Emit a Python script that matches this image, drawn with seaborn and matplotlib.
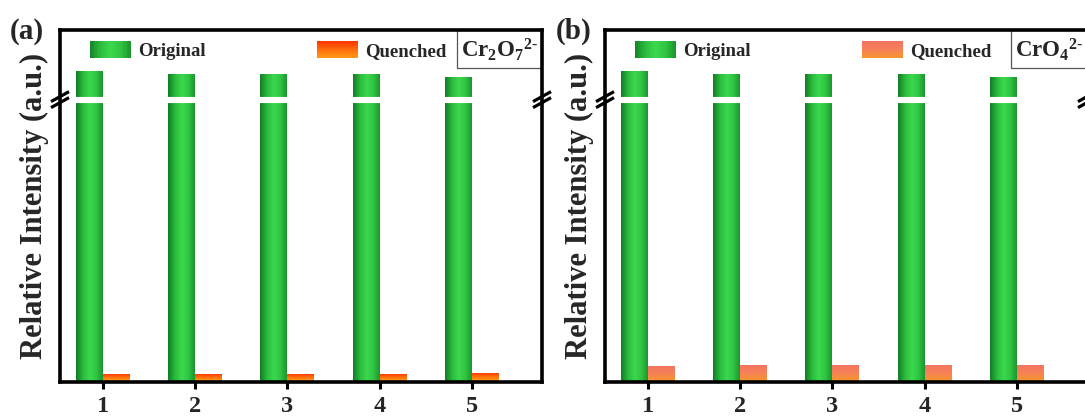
import numpy as np
import pandas as pd
import matplotlib
matplotlib.use("Agg")
import matplotlib.pyplot as plt
import seaborn as sns
from matplotlib.patches import Rectangle
from matplotlib.legend_handler import HandlerBase
from matplotlib.colors import LinearSegmentedColormap
from matplotlib.ticker import NullLocator

# ---- data (relative intensity, a.u.) ----
cycles = ["1", "2", "3", "4", "5"]
series = ["Original", "Quenched"]
original_cr2o7 = [100.0, 99.8, 99.8, 99.8, 99.6]
quenched_cr2o7 = [0.52, 0.52, 0.52, 0.52, 0.62]
original_cro4 = [100.0, 99.8, 99.8, 99.8, 99.6]
quenched_cro4 = [1.09, 1.14, 1.19, 1.19, 1.19]

# ---- broken y axis: [0, BREAK_LO] and [BREAK_HI, Y_TOP] ----
BREAK_LO, BREAK_HI, Y_TOP = 20.0, 98.0, 102.94


def fwd(y):
    y = np.asarray(y, dtype=float)
    return np.where(y <= BREAK_LO, y,
                    np.where(y >= BREAK_HI, y - (BREAK_HI - BREAK_LO), BREAK_LO))


def inv(z):
    z = np.asarray(z, dtype=float)
    return np.where(z <= BREAK_LO, z, z + (BREAK_HI - BREAK_LO))


sns.set_theme(style="white")
plt.rcParams["font.family"] = ["Liberation Serif", "DejaVu Serif"]
plt.rcParams["font.weight"] = "bold"
plt.rcParams["mathtext.fontset"] = "custom"
plt.rcParams["mathtext.rm"] = "Liberation Serif:bold"
plt.rcParams["mathtext.default"] = "rm"

GREEN = ["#158228", "#2bbd3d", "#3cd84e", "#2fc442", "#1b922e"]
ORANGE_A = ["#ff9a1a", "#ff6a0a", "#ff2f00"]      # bottom -> top
ORANGE_B = ["#f7952f", "#f6805a", "#f47360"]      # bottom -> top


class GradientHandler(HandlerBase):
    def __init__(self, colors, horizontal):
        super().__init__()
        self.cmap = LinearSegmentedColormap.from_list("lg", colors)
        self.horizontal = horizontal

    def create_artists(self, legend, orig_handle, xdescent, ydescent,
                       width, height, fontsize, trans):
        n = 30
        arts = []
        for i in range(n):
            c = self.cmap((i + 0.5) / n)
            if self.horizontal:
                r = Rectangle((-xdescent + width * i / n, -ydescent),
                              width / n * 1.08, height)
            else:
                r = Rectangle((-xdescent, -ydescent + height * i / n),
                              width, height / n * 1.08)
            r.set_facecolor(c)
            r.set_edgecolor("none")
            r.set_transform(trans)
            arts.append(r)
        return arts


def break_marks(ax, x_axes, y_axes):
    bb = ax.get_position()
    fw, fh = ax.figure.get_size_inches() * ax.figure.dpi
    px_x = 1.0 / (bb.width * fw)
    px_y = 1.0 / (bb.height * fh)
    for off in (-3.0, 3.0):
        ax.plot([x_axes - 9 * px_x, x_axes + 9 * px_x],
                [y_axes - 5 * px_y + off * px_y, y_axes + 5 * px_y + off * px_y],
                transform=ax.transAxes, color="black", lw=2.3,
                clip_on=False, zorder=6, solid_capstyle="butt")


def draw_panel(ax, original, quenched, q_colors, ion_text, box_x0):
    df = pd.DataFrame({
        "cycle": cycles * 2,
        "series": [series[0]] * len(cycles) + [series[1]] * len(cycles),
        "intensity": list(original) + list(quenched),
    })
    sns.barplot(data=df, x="cycle", y="intensity", hue="series",
                order=cycles, hue_order=series,
                palette=[GREEN[2], q_colors[1]], width=0.586,
                errorbar=None, saturation=1, linewidth=0,
                legend=False, ax=ax)
    ax.set_yscale("function", functions=(fwd, inv))

    green_cmap = LinearSegmentedColormap.from_list("g", GREEN)
    q_cmap = LinearSegmentedColormap.from_list("q", q_colors)
    ramp = np.linspace(0, 1, 64)
    for p in list(ax.patches):
        x0, w, h = p.get_x(), p.get_width(), p.get_height()
        xc = x0 + w / 2
        if xc < round(xc):
            img, cmap = ramp.reshape(1, -1), green_cmap
        else:
            img, cmap = ramp.reshape(-1, 1), q_cmap
        ax.imshow(img, cmap=cmap, extent=[x0, x0 + w, 0, h], origin="lower",
                  aspect="auto", interpolation="bilinear", zorder=1.2)

    ax.set_xlim(-0.466, 4.76)
    ax.set_ylim(0, Y_TOP)
    ax.set_yticks([])
    ax.yaxis.set_minor_locator(NullLocator())

    # white gap through the bars at the axis break
    ax.axhline(BREAK_LO, color="white", lw=4.4, zorder=2)

    for s in ax.spines.values():
        s.set_visible(True)
        s.set_linewidth(2.6)
        s.set_color("black")
        s.set_zorder(5)

    ax.tick_params(axis="x", direction="out", length=5, width=2.2,
                   color="black", bottom=True, top=False, pad=5.5,
                   labelsize=17.5)
    for t in ax.get_xticklabels():
        t.set_fontweight("bold")
    ax.set_xlabel("")
    ax.set_ylabel("Relative Intensity (a.u.)", fontsize=22,
                  fontweight="bold", labelpad=8)

    yb = fwd(BREAK_LO) / fwd(Y_TOP)
    break_marks(ax, 0.0, float(yb))
    break_marks(ax, 1.0, float(yb))

    h1 = Rectangle((0, 0), 1, 1)
    h2 = Rectangle((0, 0), 1, 1)
    ax.legend([h1, h2], series, ncol=2, frameon=False,
              handler_map={h1: GradientHandler(GREEN, True),
                           h2: GradientHandler(q_colors, False)},
              prop={"family": "Liberation Serif", "weight": "bold", "size": 13.5},
              handlelength=2.2, handleheight=1.0, handletextpad=0.35,
              columnspacing=5.95, borderpad=0, borderaxespad=0,
              loc="upper left", bbox_to_anchor=(0.062, 0.969))

    box = Rectangle((box_x0, 0.893), 1.0 - box_x0, 0.107,
                    transform=ax.transAxes, facecolor="white",
                    edgecolor="#555555", lw=0.9, zorder=4, clip_on=False)
    ax.add_patch(box)
    ax.text((box_x0 + 1.0) / 2, 0.944, ion_text, transform=ax.transAxes,
            ha="center", va="center", fontsize=16.5, zorder=6)


fig = plt.figure(figsize=(10.85, 4.19), dpi=100)
ax_a = fig.add_axes([60 / 1085, 37.5 / 419, 482 / 1085, 351.5 / 419])
ax_b = fig.add_axes([605 / 1085, 37.5 / 419, 482 / 1085, 351.5 / 419])

draw_panel(ax_a, original_cr2o7, quenched_cr2o7, ORANGE_A,
           r"$\mathrm{Cr_2O_7{}^{2\text{-}}}$", 0.824)
draw_panel(ax_b, original_cro4, quenched_cro4, ORANGE_B,
           r"$\mathrm{CrO_4{}^{2\text{-}}}$", 0.842)

fig.text(10 / 1085, 1 - 39 / 419, "(a)", fontsize=21, fontweight="bold",
         ha="left", va="baseline")
fig.text(556 / 1085, 1 - 39 / 419, "(b)", fontsize=21, fontweight="bold",
         ha="left", va="baseline")

fig.savefig("out.png", dpi=100)
